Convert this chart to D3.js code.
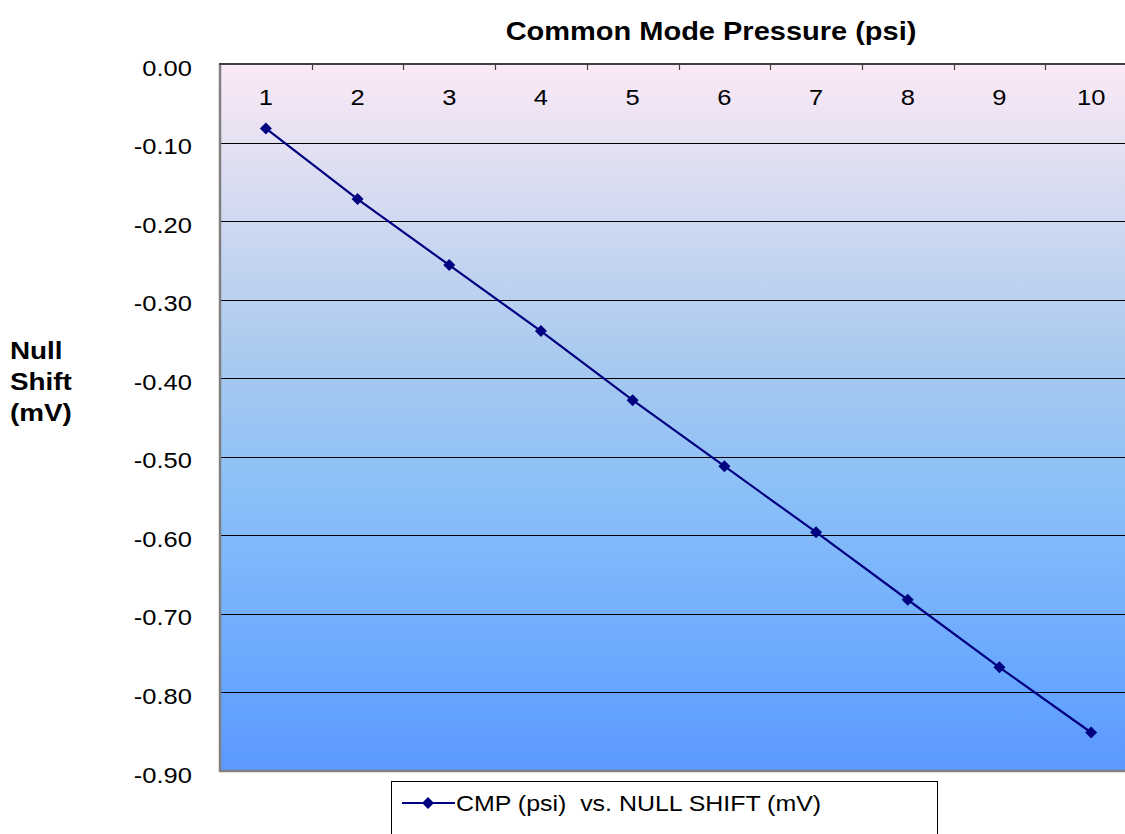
<!DOCTYPE html>
<html>
<head>
<meta charset="utf-8">
<script src="https://cdn.jsdelivr.net/npm/d3@7"></script>
<style>
  html, body { margin: 0; padding: 0; background: #ffffff; }
  svg { display: block; font-family: "Liberation Sans", Arial, sans-serif; }
</style>
</head>
<body>
<svg id="chart" width="1125" height="834"></svg>
<script>
// ---- data ----
const categories = ["1", "2", "3", "4", "5", "6", "7", "8", "9", "10"];
const nullShift = [-0.082, -0.172, -0.256, -0.340, -0.428, -0.512, -0.596, -0.682, -0.768, -0.851];
const yTicks = [0, -0.1, -0.2, -0.3, -0.4, -0.5, -0.6, -0.7, -0.8, -0.9];
const chartTitle = "Common Mode Pressure (psi)";
const yTitleLines = ["Null", "Shift", "(mV)"];
const seriesName = "CMP (psi)  vs. NULL SHIFT (mV)";

// ---- layout ----
const FONT = "'Liberation Sans', Arial, sans-serif";
const SX = 1.16; // horizontal text stretch of the original picture
const svg = d3.select("#chart");
const plot = { left: 220, top: 64, right: 1137, bottom: 771 };

const x = d3.scaleBand().domain(categories).range([plot.left, plot.right]);
const y = d3.scaleLinear().domain([0, -0.9]).range([plot.top, plot.bottom]);

// gradient background
const defs = svg.append("defs");
const grad = defs.append("linearGradient").attr("id", "bg")
  .attr("x1", 0).attr("y1", 0).attr("x2", 0).attr("y2", 1);
[[0, "#FCE9F7"], [0.12, "#E3E0F2"], [0.43, "#A6C9EF"], [0.6, "#8CC0F8"], [0.88, "#66A6FF"], [1, "#5B99FF"]]
  .forEach(([o, c]) => grad.append("stop").attr("offset", o).attr("stop-color", c));

svg.append("rect")
  .attr("x", plot.left).attr("y", plot.top)
  .attr("width", plot.right - plot.left).attr("height", plot.bottom - plot.top)
  .attr("fill", "url(#bg)");

// gridlines
svg.append("g").selectAll("line")
  .data(yTicks.filter(d => d !== 0 && d !== -0.9))
  .join("line")
  .attr("x1", plot.left).attr("x2", plot.right)
  .attr("y1", d => Math.round(y(d)) + 0.5).attr("y2", d => Math.round(y(d)) + 0.5)
  .attr("stroke", "#000").attr("stroke-width", 1);

// plot borders (left + bottom gray)
svg.append("line").attr("x1", plot.left).attr("x2", plot.left)
  .attr("y1", plot.top).attr("y2", plot.bottom + 1)
  .attr("stroke", "#808080").attr("stroke-width", 2.5);
svg.append("line").attr("x1", plot.left).attr("x2", plot.right)
  .attr("y1", plot.bottom).attr("y2", plot.bottom)
  .attr("stroke", "#808080").attr("stroke-width", 2.5);

// top category axis (labels inside the plot)
const xAxis = d3.axisTop(x).tickSize(0).tickPadding(0);
const gx = svg.append("g").attr("transform", `translate(0,${plot.top})`).call(xAxis);
gx.select(".domain").remove();
gx.selectAll(".tick text")
  .attr("y", 0).attr("dy", null)
  .attr("transform", `translate(0,41) scale(${SX},1)`)
  .attr("font-size", 22).attr("font-family", FONT)
  .attr("fill", "#000").attr("text-anchor", "middle");
// axis line at top
svg.append("line").attr("x1", plot.left - 1).attr("x2", plot.right)
  .attr("y1", plot.top).attr("y2", plot.top)
  .attr("stroke", "#404040").attr("stroke-width", 2);
// inward tick marks between categories
svg.append("g").selectAll("line")
  .data(categories.slice(1))
  .join("line")
  .attr("x1", d => Math.round(x(d)) + 0.5).attr("x2", d => Math.round(x(d)) + 0.5)
  .attr("y1", plot.top).attr("y2", plot.top + 6)
  .attr("stroke", "#404040").attr("stroke-width", 1.2);

// left value axis
const yAxis = d3.axisLeft(y).tickValues(yTicks).tickFormat(d => d.toFixed(2)).tickSize(0).tickPadding(0);
const gy = svg.append("g").attr("transform", `translate(${plot.left},0)`).call(yAxis);
gy.select(".domain").remove();
gy.selectAll(".tick text")
  .attr("x", 0).attr("dy", null).attr("y", 0)
  .attr("transform", `translate(-28,11) scale(${SX},1)`)
  .attr("font-size", 22).attr("font-family", FONT)
  .attr("fill", "#000").attr("text-anchor", "end");

// series line
const pts = categories.map((c, i) => [x(c) + x.bandwidth() / 2, y(nullShift[i])]);
svg.append("path")
  .attr("d", d3.line()(pts))
  .attr("fill", "none").attr("stroke", "#000080").attr("stroke-width", 2.2);
const diamond = d3.symbol().type(d3.symbolSquare).size(72);
svg.append("g").selectAll("path")
  .data(pts)
  .join("path")
  .attr("transform", d => `translate(${d[0]},${d[1]}) rotate(45)`)
  .attr("d", diamond)
  .attr("fill", "#000080");

// chart title
svg.append("text")
  .attr("transform", `translate(711,40) scale(${SX},1)`)
  .attr("text-anchor", "middle").attr("font-weight", "bold").attr("font-size", 25)
  .attr("font-family", FONT)
  .attr("fill", "#000").text(chartTitle);

// y-axis title
yTitleLines.forEach((t, i) => {
  svg.append("text")
    .attr("transform", `translate(10,${359 + i * 31}) scale(${SX},1)`)
    .attr("font-weight", "bold").attr("font-size", 24).attr("font-family", FONT)
    .attr("fill", "#000").text(t);
});

// legend
const lg = svg.append("g");
lg.append("rect").attr("x", 391.5).attr("y", 781.5).attr("width", 546).attr("height", 80)
  .attr("fill", "#fff").attr("stroke", "#000").attr("stroke-width", 1);
lg.append("line").attr("x1", 402).attr("x2", 455).attr("y1", 803).attr("y2", 803)
  .attr("stroke", "#000080").attr("stroke-width", 2.2);
lg.append("path").attr("transform", "translate(428,803) rotate(45)").attr("d", diamond).attr("fill", "#000080");
lg.append("text")
  .attr("transform", `translate(456,811) scale(${SX},1)`)
  .attr("font-size", 21.5).attr("font-family", FONT).attr("fill", "#000")
  .style("white-space", "pre").attr("xml:space", "preserve")
  .text(seriesName);
</script>
</body>
</html>
